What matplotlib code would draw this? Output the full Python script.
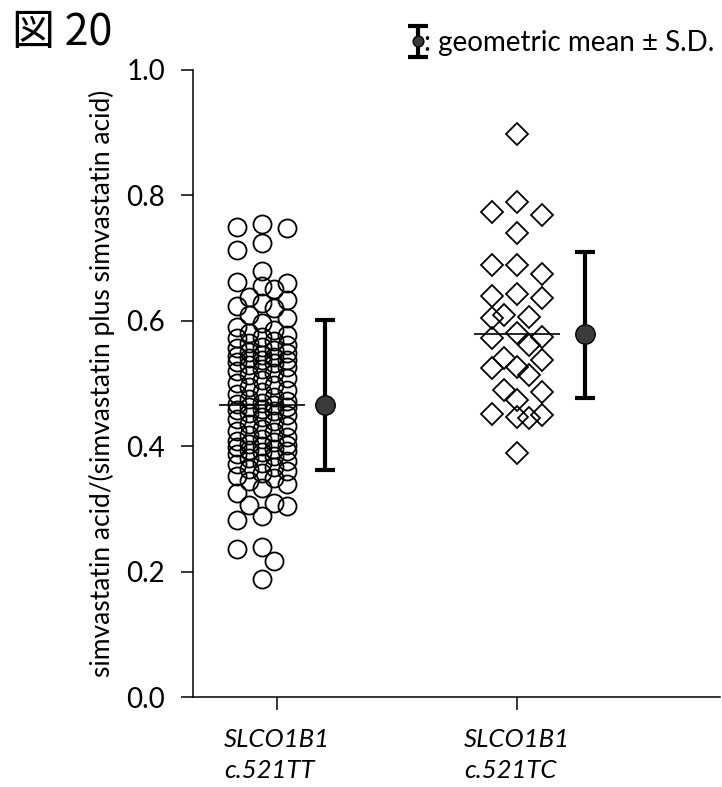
import numpy as np
import matplotlib
matplotlib.use("Agg")
import matplotlib.pyplot as plt
from matplotlib.legend_handler import HandlerErrorbar

plt.rcParams['font.family'] = ['Lato', 'DejaVu Sans']

# values
group_labels = ["SLCO1B1\nc.521TT", "SLCO1B1\nc.521TC"]
tt_values = [0.754, 0.750, 0.748, 0.724, 0.713, 0.679, 0.662, 0.660, 0.655, 0.650,
             0.638, 0.633, 0.628, 0.624, 0.621, 0.609, 0.604, 0.596, 0.590, 0.586,
             0.581, 0.577, 0.574, 0.572, 0.568, 0.565, 0.562, 0.558, 0.556, 0.553,
             0.550, 0.548, 0.546, 0.544, 0.542, 0.540, 0.538, 0.537, 0.535, 0.533,
             0.530, 0.527, 0.523, 0.520, 0.516, 0.513, 0.508, 0.505, 0.501, 0.497,
             0.494, 0.490, 0.486, 0.483, 0.479, 0.475, 0.472, 0.469, 0.467, 0.465,
             0.463, 0.462, 0.460, 0.458, 0.456, 0.453, 0.450, 0.447, 0.443, 0.440,
             0.436, 0.432, 0.428, 0.425, 0.422, 0.418, 0.415, 0.412, 0.409, 0.406,
             0.404, 0.402, 0.400, 0.398, 0.396, 0.394, 0.392, 0.390, 0.387, 0.384,
             0.381, 0.377, 0.374, 0.371, 0.367, 0.364, 0.360, 0.357, 0.353, 0.349,
             0.345, 0.339, 0.333, 0.325, 0.309, 0.307, 0.305, 0.289, 0.283, 0.239,
             0.236, 0.217, 0.188]
tc_values = [0.898, 0.789, 0.773, 0.769, 0.740, 0.689, 0.689, 0.675, 0.643, 0.640,
             0.636, 0.609, 0.606, 0.604, 0.580, 0.574, 0.573, 0.561, 0.541, 0.537,
             0.526, 0.525, 0.514, 0.489, 0.487, 0.474, 0.452, 0.450, 0.447, 0.445,
             0.389]
geo_mean = [0.466, 0.579]
sd_low = [0.362, 0.477]
sd_high = [0.601, 0.710]
y_ticks = [0.0, 0.2, 0.4, 0.6, 0.8, 1.0]

fig = plt.figure(figsize=(7.22, 7.87), dpi=100)
ax = fig.add_axes([193 / 722, 1 - 697 / 787, 527 / 722, 627 / 787])
ax.set_xlim(0.65, 2.846)
ax.set_ylim(0, 1.0)


def swarm(values, center, step_px, n_side, diam_px):
    # simple column beeswarm worked out in display pixels
    vals = np.sort(np.asarray(values, dtype=float))[::-1]
    pts = ax.transData.transform(np.column_stack([np.full(len(vals), center), vals]))
    cx = pts[0, 0]
    offs = sorted(range(-n_side, n_side + 1), key=lambda k: (abs(k), -k if k % 2 else k))
    placed = []
    for y in pts[:, 1]:
        best, best_d = None, -1.0
        for k in offs:
            x = cx + k * step_px
            d = min((np.hypot(x - px, y - py) for px, py in placed), default=1e9)
            if d >= diam_px:
                best = x
                break
            if d > best_d:
                best_d, best = d, x
        placed.append((best, y))
    xs = ax.transData.inverted().transform(np.array(placed))[:, 0]
    return xs, vals


cluster_x = [0.9375, 2.0]
bar_x = [1.2, 2.283]

x_tt, y_tt = swarm(tt_values, cluster_x[0], 12.5, 2, 18)
x_tc, y_tc = swarm(tc_values, cluster_x[1], 12.5, 2, 22)

ax.plot(x_tt, y_tt, 'o', ms=13, mfc='none', mec='black', mew=1.3, zorder=3)
ax.plot(x_tc, y_tc, 'D', ms=11.5, mfc='none', mec='black', mew=1.3, zorder=3)

for cx, gm in zip(cluster_x, geo_mean):
    ax.hlines(gm, cx - 0.18, cx + 0.18, color='black', lw=1.2, zorder=4)

gm = np.array(geo_mean)
err = [gm - np.array(sd_low), np.array(sd_high) - gm]
eb = ax.errorbar(bar_x, geo_mean, yerr=err, fmt='o', ms=14, mfc='#3a3a3a', mec='black',
                 ecolor='black', elinewidth=3, capsize=7, capthick=3, zorder=5)

ax.legend([eb], [": geometric mean \u00b1 S.D."], loc='center right',
          bbox_to_anchor=(0.99, 1.043), frameon=False, fontsize=20,
          handlelength=0.5, handletextpad=0.0, borderpad=0, borderaxespad=0,
          markerscale=0.55, numpoints=1,
          handler_map={type(eb): HandlerErrorbar(yerr_size=0.55)})

ax.spines['top'].set_visible(False)
ax.spines['right'].set_visible(False)
ax.spines['left'].set_linewidth(1.1)
ax.spines['bottom'].set_linewidth(1.1)
ax.set_yticks(y_ticks)
ax.set_yticklabels([f"{t:.1f}" for t in y_ticks])
ax.set_xticks([1, 2])
ax.set_xticklabels(group_labels, fontstyle='italic', linespacing=1.45, multialignment='left')
ax.tick_params(axis='both', direction='out', length=9, width=1.1, labelsize=20, pad=11)
ax.tick_params(axis='x', labelsize=18.5, pad=13)
ax.set_ylabel("simvastatin acid/(simvastatin plus simvastatin acid)", fontsize=19, labelpad=8)

fig.text(12 / 722, 1 - 45 / 787, "\u56f3 20", fontsize=31, va='baseline',
         family=['Noto Sans CJK JP', 'DejaVu Sans'])

fig.savefig("out.png", dpi=100)
